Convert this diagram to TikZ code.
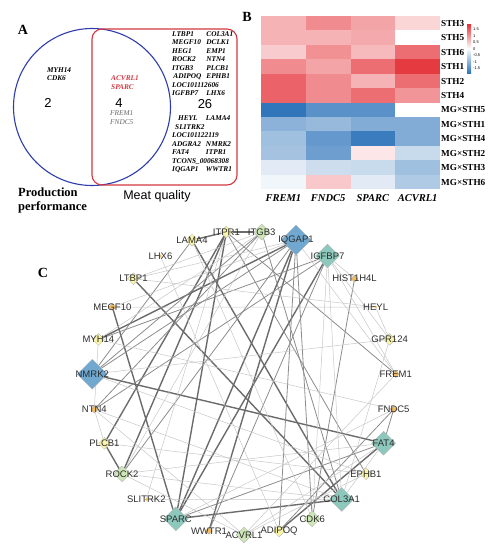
\documentclass[tikz,border=0pt]{standalone}
\usepackage{fontspec}
\setmainfont{Liberation Serif}
\setsansfont{Liberation Sans}
\usetikzlibrary{shapes.geometric, backgrounds}

\definecolor{vennblue}{RGB}{45,60,170}
\definecolor{vennred}{RGB}{210,55,65}
\definecolor{hmred}{RGB}{228,48,55}
\definecolor{hmblue}{RGB}{45,115,185}
\definecolor{nblue}{RGB}{112,168,208}
\definecolor{nteal}{RGB}{140,200,188}
\definecolor{ngreen}{RGB}{204,230,182}
\definecolor{nyellow}{RGB}{248,244,168}
\definecolor{norange}{RGB}{244,186,92}
\definecolor{lbltext}{RGB}{45,45,45}

\begin{document}
\begin{tikzpicture}[x=1pt, y=-1pt,
  panel/.style={font=\fontsize{14}{14}\selectfont\bfseries, inner sep=0pt},
  vgenes/.style={font=\fontsize{7.3}{8.5}\selectfont\bfseries\itshape, inner sep=0pt, align=left},
  vcount/.style={font=\fontsize{13}{13}\selectfont\sffamily, inner sep=0pt},
  rowlbl/.style={font=\fontsize{9.2}{10}\selectfont\bfseries, anchor=west, inner sep=0pt},
  collbl/.style={font=\fontsize{10.5}{11}\selectfont\bfseries\itshape, inner sep=0pt},
  ticklbl/.style={font=\fontsize{4}{4}\selectfont\sffamily, anchor=west, inner sep=0pt},
  gene/.style={diamond, draw=black!30, line width=0.3pt, inner sep=0pt},
  gblue/.style={gene, fill=nblue, minimum size=30pt},
  gteal/.style={gene, fill=nteal, minimum size=24pt},
  ggreen/.style={gene, fill=ngreen, minimum size=16pt},
  gyellow/.style={gene, fill=nyellow, minimum size=12pt},
  gorange/.style={gene, fill=norange, minimum size=7pt},
  gtiny/.style={gene, fill=norange, draw=none, minimum size=3pt},
  every label/.style={font=\fontsize{9.5}{10}\selectfont\sffamily, text=lbltext, inner sep=0pt},
  strongedge/.style={draw=black!58, line width=1.4pt},
  midedge/.style={draw=black!45, line width=0.8pt},
  faintedge/.style={draw=black!22, line width=0.5pt}]
\useasboundingbox (0,0) rectangle (497,550);

% A: Venn diagram
\node[panel] (labA) at (23,30) {A};
\draw[vennblue, line width=1.1pt] (92,107) circle[radius=78.5pt];
\draw[vennred, line width=1.1pt, rounded corners=10pt] (92,29) rectangle (237,185);
\node[vgenes, anchor=west] (prodonly) at (47,74) {MYH14\\CDK6};
\node[vgenes, anchor=west, text=vennred] (sharedred) at (111,82.5) {ACVRL1\\SPARC};
\node[vgenes, anchor=west, text=black!60, font=\fontsize{7.3}{8.5}\selectfont\itshape] (sharedgray) at (110,117.5) {FREM1\\FNDC5};
\node[vcount] (nprod) at (48,103) {2};
\node[vcount] (nshared) at (119,103) {4};
\node[vcount] (nmeat) at (205,104) {26};
\node[vgenes, anchor=west] (meatlistA) at (172,64.5) {%
  \begin{tabular}{@{}l@{\hspace{5pt}}l@{}}
  LTBP1 & COL3A1\\ MEGF10 & DCLK1\\ HEG1 & EMP1\\ ROCK2 & NTN4\\
  ITGB3 & PLCB1\\ \,ADIPOQ & EPHB1\\ \multicolumn{2}{@{}l@{}}{LOC101112606}\\ IGFBP7 & LHX6
  \end{tabular}};
\node[vgenes, anchor=west] (meatlistB) at (172,144.5) {%
  \begin{tabular}{@{}l@{\hspace{5pt}}l@{}}
  \hspace{6pt}HEYL & LAMA4\\ \multicolumn{2}{@{}l@{}}{\hspace{3pt}SLITRK2}\\
  \multicolumn{2}{@{}l@{}}{LOC101122119}\\ ADGRA2 & NMRK2\\ FAT4 & ITPR1\\
  \multicolumn{2}{@{}l@{}}{TCONS\_00068308}\\ IQGAP1 & WWTR1
  \end{tabular}};
\node[font=\fontsize{12.5}{14}\selectfont\bfseries, align=left, anchor=west, inner sep=0pt] (prodname) at (18,200) {Production\\performance};
\node[font=\fontsize{12.5}{13}\selectfont\sffamily, inner sep=0pt] (meatname) at (157,196) {Meat quality};

% B: heatmap
\node[panel] (labB) at (247,17) {B};
\foreach \row/\vals [count=\r from 0] in {
    STH3/{0.55,0.84,0.66,0.30}, STH5/{0.55,0.55,0.62,0}, STH6/{0.37,0.80,0.50,1.06},
    STH1/{0.84,0.66,1.06,1.43}, STH2/{1.13,0.84,0.55,1.06}, STH4/{1.13,0.84,1.06,0.77},
    MG×STH5/{-1.47,-1.18,-1.18,0}, MG×STH1/{-0.82,-0.75,-0.89,-0.89},
    MG×STH4/{-0.68,-1.10,-1.40,-0.89}, MG×STH2/{-0.64,-1.04,0.18,-0.39},
    MG×STH3/{-0.21,-0.36,-0.39,-0.68}, MG×STH6/{-0.10,0.40,-0.21,-0.57}}{
  \foreach \v [count=\c from 0] in \vals {
    \pgfmathsetmacro\pct{min(100,abs(\v)/1.5*100)}
    \ifdim \v pt>0pt \def\hue{hmred}\else\def\hue{hmblue}\fi
    \fill[\hue!\pct!white] ({261+44.75*\c},{16+14.42*\r}) rectangle +(45.1,14.8);
  }
  \node[rowlbl] (row\r) at (441,{23.4+14.42*\r}) {\row};
}
\foreach \g [count=\c from 0] in {FREM1,FNDC5,SPARC,ACVRL1}
  \node[collbl] (col\g) at ({283.4+44.75*\c},198) {\g};
\shade[top color=hmred, bottom color=hmblue, middle color=white] (467,24) rectangle (471,73);
\foreach \t/\y [count=\i] in {1.5/29, 1/36, 0.5/42, 0/49, -0.5/55, -1/62, -1.5/68}
  \node[ticklbl] (tick\i) at (473,\y) {\t};

% C: network
\node[panel] (labC) at (43,273) {C};
\foreach \name/\kind [count=\k from 0] in {LAMA4/gyellow, ITPR1/gyellow, ITGB3/ggreen,
    IQGAP1/gblue, IGFBP7/gteal, HIST1H4L/gorange, HEYL/gtiny, GPR124/gyellow,
    FREM1/gorange, FNDC5/gorange, FAT4/gteal, EPHB1/gyellow, COL3A1/gteal,
    CDK6/ggreen, ADIPOQ/gyellow, ACVRL1/ggreen, WWTR1/gorange, SPARC/gteal,
    SLITRK2/gtiny, ROCK2/ggreen, PLCB1/gyellow, NTN4/gorange, NMRK2/gblue,
    MYH14/gyellow, MEGF10/gorange, LTBP1/gyellow, LHX6/gtiny}
  \node[\kind, label={center:\name}] (\name)
    at ({244+152*cos(13.333*\k-110)},{383+152*sin(13.333*\k-110)}) {};

\begin{pgfonlayer}{background}
\foreach \a/\b in {ITPR1/ITGB3, LAMA4/ITPR1, IQGAP1/MYH14, IQGAP1/WWTR1, IQGAP1/SPARC,
    ITPR1/SPARC, ITPR1/PLCB1, ITPR1/ROCK2, SPARC/COL3A1, NMRK2/FAT4, MEGF10/SPARC,
    PLCB1/ROCK2, LTBP1/COL3A1, LAMA4/COL3A1, FAT4/ADIPOQ, IGFBP7/SPARC}
  \draw[strongedge] (\a) -- (\b);
\foreach \a/\b in {HIST1H4L/CDK6, FNDC5/FAT4, ITGB3/COL3A1, IGFBP7/MYH14, ITPR1/FREM1,
    ITPR1/EPHB1, IQGAP1/ADIPOQ, IQGAP1/CDK6, IGFBP7/NTN4, ITGB3/NTN4, ITGB3/NMRK2,
    ROCK2/IQGAP1, SPARC/FAT4, FNDC5/ADIPOQ, LAMA4/NMRK2, IQGAP1/NMRK2, IGFBP7/WWTR1}
  \draw[midedge] (\a) -- (\b);
\foreach \a/\b in {ITPR1/SLITRK2, IGFBP7/GPR124, IGFBP7/FREM1, IGFBP7/COL3A1, IGFBP7/CDK6,
    LTBP1/HEYL, LTBP1/ITGB3, LTBP1/IQGAP1, LHX6/ADIPOQ, MEGF10/HEYL, MEGF10/IQGAP1,
    MYH14/ITGB3, MYH14/FNDC5, NMRK2/GPR124, NMRK2/EPHB1, NTN4/PLCB1, NTN4/COL3A1,
    PLCB1/EPHB1, ROCK2/COL3A1, ROCK2/FAT4, SPARC/FNDC5, ACVRL1/FAT4, ACVRL1/EPHB1,
    ACVRL1/ROCK2, ACVRL1/NTN4, COL3A1/FAT4, COL3A1/GPR124, COL3A1/SLITRK2, FREM1/ACVRL1,
    IQGAP1/FREM1, LAMA4/CDK6, ITGB3/ROCK2, MYH14/NTN4, GPR124/HEYL, HIST1H4L/IGFBP7}
  \draw[faintedge] (\a) -- (\b);
\end{pgfonlayer}
\end{tikzpicture}
\end{document}
